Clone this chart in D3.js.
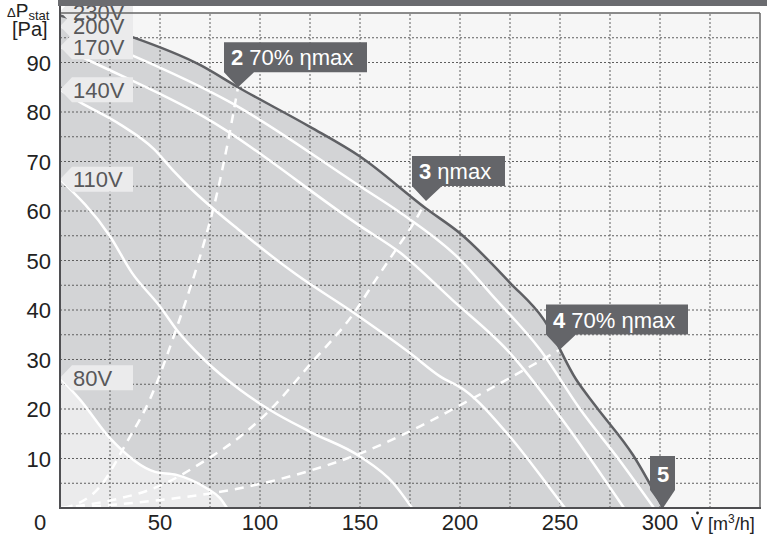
<!DOCTYPE html>
<html>
<head>
<meta charset="utf-8">
<script src="https://cdn.jsdelivr.net/npm/d3@7"></script>
<style>
  body { margin: 0; background: #fff; }
  svg { display: block; font-family: "Liberation Sans", Arial, sans-serif; }
</style>
</head>
<body>
<svg width="767" height="535"></svg>
<script>
// fan curves, [flow m3/h, static pressure Pa]
const curve230 = [[0,99.5],[35,95.3],[70,89.5],[89,85],[125,77],[150,71],[183,60.5],[200,55.5],[225,45.5],[242,38],[258,26],[268,20.5],[286.5,10.7],[301.5,0]];
const curve200 = [[0,97.3],[35.8,91.5],[85,82],[150,65],[170,59.7],[200,50.2],[216,43],[240,32],[260,20],[280,9.5],[297,0]];
const curve170 = [[0,93.2],[16.7,90],[72,79],[150,57],[170,51.6],[196,42.1],[225,31.3],[250,18.5],[282,0]];
const curve140 = [[0,84.5],[10,82],[30,77.5],[47,72.5],[57,68],[65,64.7],[90,56],[118,47.2],[147,39.4],[175,31.3],[190,26.6],[202,23.9],[225,14.4],[245,4],[252.5,0]];
const curve110 = [[0,66.4],[25,54.9],[36,47.5],[50,40.7],[58.3,36],[72,30],[90,23.9],[105,19.8],[125,15.4],[150,10.4],[166.7,5],[176,0]];
const curve80 = [[0,26.3],[10,21.9],[25,14.1],[47.5,7.3],[58.3,6.7],[73.3,4],[80,2],[83.5,0]];

// efficiency lines
const eta70Left = [[2,0],[20,4.3],[33,13],[45,22],[58,36],[73,55],[77,61],[83,72],[89,85]];
const etaMax = [[0,0],[25,1.5],[50,4.5],[73,9.7],[90,14.4],[105,19.8],[125,29],[147,39.4],[158,46.2],[168,52.2],[177.5,58],[183,62]];
const eta70Right = [[0,0],[25,0.6],[50,1.6],[90,4],[123,7.3],[150,11],[180,16.5],[202,21.2],[225,26.3],[250,32]];

const voltageNames = ['230V', '200V', '170V', '140V', '110V', '80V'];
const voltageCurves = [curve230, curve200, curve170, curve140, curve110, curve80];
// pressure where each voltage tag points on the left axis
const voltageTagP = [100.3, 97.3, 93.2, 84.5, 66.4, 26.3];

const xTicks = [50, 100, 150, 200, 250, 300];
const yTicks = [10, 20, 30, 40, 50, 60, 70, 80, 90];

const svg = d3.select('svg');
const x = d3.scaleLinear().domain([0, 350]).range([60, 760]);
const y = d3.scaleLinear().domain([0, 100]).range([508, 13]);

const line = d3.line().x(d => x(d[0])).y(d => y(d[1])).curve(d3.curveMonotoneX);
const area = d3.area().x(d => x(d[0])).y0(y(0)).y1(d => y(d[1])).curve(d3.curveMonotoneX);

// plot background
svg.append('rect')
  .attr('x', x(0)).attr('y', y(100))
  .attr('width', x(350) - x(0)).attr('height', y(0) - y(100))
  .attr('fill', '#f6f6f6');

svg.append('path').attr('d', area(curve230)).attr('fill', '#d3d4d6');
svg.append('path').attr('d', area(curve80)).attr('fill', '#ebebec');

// dotted grid
const grid = svg.append('g')
  .attr('stroke', '#5f5f5f')
  .attr('stroke-width', 1)
  .attr('stroke-dasharray', '2,2');
grid.selectAll('line.v')
  .data(d3.range(25, 350, 25))
  .join('line')
  .attr('x1', d => x(d)).attr('x2', d => x(d))
  .attr('y1', y(0)).attr('y2', y(100));
grid.selectAll('line.h')
  .data(d3.range(5, 100, 5))
  .join('line')
  .attr('y1', d => y(d)).attr('y2', d => y(d))
  .attr('x1', x(0)).attr('x2', x(350));

// white voltage curves
svg.append('g')
  .selectAll('path')
  .data(voltageCurves.slice(1))
  .join('path')
  .attr('d', line)
  .attr('fill', 'none')
  .attr('stroke', '#fff')
  .attr('stroke-width', 2.5);

// dashed efficiency lines
svg.append('g')
  .selectAll('path')
  .data([eta70Left, etaMax, eta70Right])
  .join('path')
  .attr('d', line)
  .attr('fill', 'none')
  .attr('stroke', '#fff')
  .attr('stroke-width', 2.5)
  .attr('stroke-dasharray', '9,7');

// max curve
svg.append('path')
  .attr('d', line(curve230))
  .attr('fill', 'none')
  .attr('stroke', '#5f6064')
  .attr('stroke-width', 2.5);

// callouts
const callouts = [
  { num: '2', text: ' 70% ηmax', tip: eta70Left[eta70Left.length - 1], w: 143 },
  { num: '3', text: ' ηmax', tip: etaMax[etaMax.length - 1], w: 93 },
  { num: '4', text: ' 70% ηmax', tip: eta70Right[eta70Right.length - 1], w: 142 }
];
callouts.forEach(c => {
  const tx = x(c.tip[0]), ty = y(c.tip[1]);
  const L = tx - 14, B = ty - 15, T = B - 30;
  svg.append('path')
    .attr('d', `M${L},${T}H${L + c.w}V${B}H${L + 30}L${tx},${ty}L${L},${B}Z`)
    .attr('fill', '#646569');
  const t = svg.append('text')
    .attr('x', L + 7).attr('y', B - 7)
    .attr('fill', '#fff')
    .attr('font-size', 22);
  t.append('tspan').attr('font-weight', 'bold').text(c.num);
  t.append('tspan').text(c.text);
});

// callout 5 at end of max curve
{
  const end = curve230[curve230.length - 1];
  const tx = x(end[0]), ty = y(end[1]);
  svg.append('path')
    .attr('d', `M${tx - 13},${ty - 52}H${tx + 12}V${ty - 18}L${tx},${ty}L${tx - 13},${ty - 18}Z`)
    .attr('fill', '#646569');
  svg.append('text')
    .attr('x', tx).attr('y', ty - 26)
    .attr('text-anchor', 'middle')
    .attr('fill', '#fff')
    .attr('font-size', 22)
    .attr('font-weight', 'bold')
    .text('5');
}

// voltage tags at the left axis: boxes first, texts on top
const x0 = x(0);
svg.append('g')
  .selectAll('path')
  .data(voltageTagP)
  .join('path')
  .attr('d', p => {
    const cy = y(p);
    return `M${x0},${cy}L${x0 + 12},${cy - 12.5}H${x0 + 73}V${cy + 12.5}H${x0 + 12}Z`;
  })
  .attr('fill', '#ebebec');
svg.append('g')
  .selectAll('text')
  .data(voltageNames)
  .join('text')
  .attr('x', x0 + 13)
  .attr('y', (d, i) => y(voltageTagP[i]) + 8)
  .attr('fill', '#58585a')
  .attr('font-size', 22)
  .text(d => d);

// frame
svg.append('line')
  .attr('x1', x(0)).attr('x2', x(350)).attr('y1', y(100)).attr('y2', y(100))
  .attr('stroke', '#666').attr('stroke-width', 1.5);
svg.append('line')
  .attr('x1', x(350)).attr('x2', x(350)).attr('y1', y(100)).attr('y2', y(0))
  .attr('stroke', '#666').attr('stroke-width', 1.5);
svg.append('line')
  .attr('x1', x(0)).attr('x2', x(0)).attr('y1', 0).attr('y2', y(0) + 1)
  .attr('stroke', '#4f4f52').attr('stroke-width', 2);
svg.append('line')
  .attr('x1', x(0) - 1).attr('x2', x(350) + 1).attr('y1', y(0)).attr('y2', y(0))
  .attr('stroke', '#4f4f52').attr('stroke-width', 2);
svg.append('rect')
  .attr('x', x(0) - 2).attr('y', 0).attr('width', 767 - x(0) + 2).attr('height', 6)
  .attr('fill', '#6b6c70');

// tick labels
svg.append('g')
  .selectAll('text')
  .data(yTicks)
  .join('text')
  .attr('x', 51).attr('y', d => y(d) + 8)
  .attr('text-anchor', 'end')
  .attr('font-size', 22)
  .attr('fill', '#222')
  .text(d => d);
svg.append('g')
  .selectAll('text')
  .data(xTicks)
  .join('text')
  .attr('x', d => x(d)).attr('y', 530)
  .attr('text-anchor', 'middle')
  .attr('font-size', 22)
  .attr('fill', '#222')
  .text(d => d);
svg.append('text')
  .attr('x', 40).attr('y', 530)
  .attr('text-anchor', 'middle')
  .attr('font-size', 22)
  .attr('fill', '#222')
  .text('0');

// axis titles
const yt = svg.append('text').attr('x', 7).attr('y', 17).attr('fill', '#222');
yt.append('tspan').attr('font-size', 13).text('Δ');
yt.append('tspan').attr('font-size', 19).text('P');
yt.append('tspan').attr('font-size', 13).attr('dy', 3).text('stat');
svg.append('text').attr('x', 12).attr('y', 36).attr('font-size', 20).attr('fill', '#222').text('[Pa]');

const xt = svg.append('text').attr('x', 691).attr('y', 530).attr('font-size', 18).attr('fill', '#222');
xt.append('tspan').text('V [m');
xt.append('tspan').attr('font-size', 12).attr('dy', -7).text('3');
xt.append('tspan').attr('dy', 7).text('/h]');
svg.append('circle').attr('cx', 697.5).attr('cy', 513).attr('r', 1.4).attr('fill', '#222');
</script>
</body>
</html>
